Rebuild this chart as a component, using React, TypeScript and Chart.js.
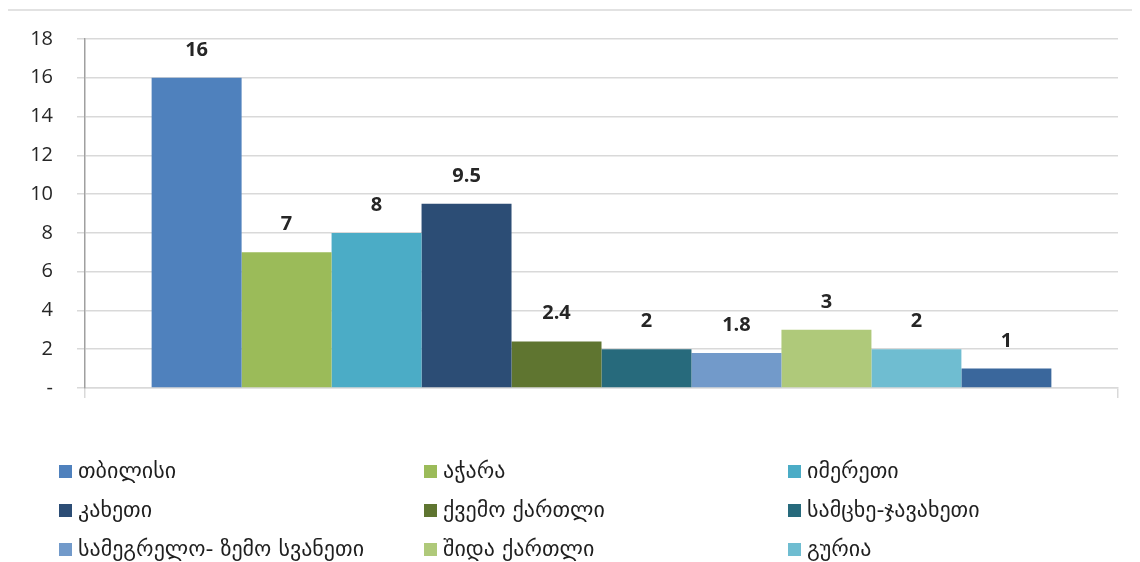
import React, { useEffect, useRef } from "react";
import { Chart, registerables } from "chart.js";

Chart.register(...registerables);

const categories: string[] = [""];
const seriesLabels: string[] = [
  "თბილისი",
  "აჭარა",
  "იმერეთი",
  "კახეთი",
  "ქვემო ქართლი",
  "სამცხე-ჯავახეთი",
  "სამეგრელო- ზემო სვანეთი",
  "შიდა ქართლი",
  "გურია",
  "რაჭა-ლეჩხუმი და ქვემო სვანეთი",
];
const seriesValues: number[] = [16, 7, 8, 9.5, 2.4, 2, 1.8, 3, 2, 1];
const seriesColors: string[] = [
  "#4F81BD",
  "#9BBB59",
  "#4BACC6",
  "#2C4D75",
  "#5F7530",
  "#276A7C",
  "#729ACA",
  "#AFC97A",
  "#6FBDD1",
  "#3A679C",
];
const yTickMax = 18;
const yTickStep = 2;

const FONT = "'Open Sans', 'DejaVu Sans', sans-serif";
const LEGEND_FONT = "'DejaVu Sans', sans-serif";

const framePlugin = {
  id: "frame",
  beforeDraw(chart: any) {
    const ctx = chart.ctx;
    ctx.save();
    ctx.fillStyle = "#ffffff";
    ctx.fillRect(0, 0, chart.width, chart.height);
    ctx.strokeStyle = "#d9d9d9";
    ctx.lineWidth = 1.5;
    ctx.strokeRect(6, 10, chart.width + 20, chart.height + 40);
    ctx.restore();
  },
};

const valueLabelPlugin = {
  id: "valueLabels",
  afterDatasetsDraw(chart: any) {
    const ctx = chart.ctx;
    ctx.save();
    ctx.font = `bold 20px ${FONT}`;
    ctx.fillStyle = "#262626";
    ctx.textAlign = "center";
    ctx.textBaseline = "alphabetic";
    chart.data.datasets.forEach((ds: any, i: number) => {
      const meta = chart.getDatasetMeta(i);
      meta.data.forEach((bar: any, j: number) => {
        const v = ds.data[j];
        ctx.fillText(String(v), bar.x, bar.y - 22);
      });
    });
    ctx.restore();
  },
};

const gridLegendPlugin = {
  id: "gridLegend",
  afterDraw(chart: any) {
    const ctx = chart.ctx;
    ctx.save();
    ctx.font = `22px ${LEGEND_FONT}`;
    ctx.textBaseline = "middle";
    ctx.textAlign = "left";
    const colX = [59, 424, 788];
    const rowY0 = 472;
    const rowH = 39;
    chart.data.datasets.forEach((ds: any, i: number) => {
      const col = i % 3;
      const row = Math.floor(i / 3);
      const x = colX[col];
      const y = rowY0 + row * rowH;
      ctx.fillStyle = ds.backgroundColor;
      ctx.fillRect(x, y - 7, 13, 13);
      ctx.fillStyle = "#1f1f1f";
      ctx.fillText(ds.label, x + 19, y);
    });
    ctx.restore();
  },
};

export default function App() {
  const canvasRef = useRef<HTMLCanvasElement | null>(null);

  useEffect(() => {
    if (!canvasRef.current) return;
    const chart = new Chart(canvasRef.current, {
      type: "bar",
      data: {
        labels: categories,
        datasets: seriesLabels.map((label, i) => ({
          label,
          data: [seriesValues[i]],
          backgroundColor: seriesColors[i],
          borderWidth: 0,
          barPercentage: 1,
          categoryPercentage: 0.871,
        })),
      },
      options: {
        animation: false,
        responsive: false,
        maintainAspectRatio: false,
        layout: { padding: { left: 0, top: 39, right: 22, bottom: 164 } },
        plugins: {
          legend: { display: false },
          tooltip: { enabled: false },
          title: { display: false },
        },
        scales: {
          x: {
            offset: true,
            grid: {
              offset: true,
              drawOnChartArea: false,
              drawTicks: true,
              tickLength: 10,
              color: "#d9d9d9",
              lineWidth: 1.5,
            },
            border: { display: true, color: "#d9d9d9", width: 1.5 },
            ticks: { display: false },
            afterFit(scale: any) {
              scale.height = 10;
            },
          },
          y: {
            min: 0,
            max: yTickMax,
            ticks: {
              stepSize: yTickStep,
              padding: 24,
              color: "#262626",
              font: { family: FONT, size: 20 },
              callback: (v: any) => (Number(v) === 0 ? "-" : String(v)),
            },
            grid: {
              color: "#d9d9d9",
              lineWidth: 1.5,
              tickLength: 8,
              drawTicks: true,
            },
            border: { display: true, color: "#a0a0a0", width: 1.5 },
            afterFit(scale: any) {
              scale.width = 85;
            },
          },
        },
      },
      plugins: [framePlugin, valueLabelPlugin, gridLegendPlugin],
    });
    return () => chart.destroy();
  }, []);

  return (
    <div
      style={{
        marginLeft: -8,
        marginTop: -8,
        width: 1140,
        height: 562,
        overflow: "hidden",
        position: "relative",
      }}
    >
      <canvas ref={canvasRef} width={1140} height={562} style={{ display: "block" }} />
    </div>
  );
}
